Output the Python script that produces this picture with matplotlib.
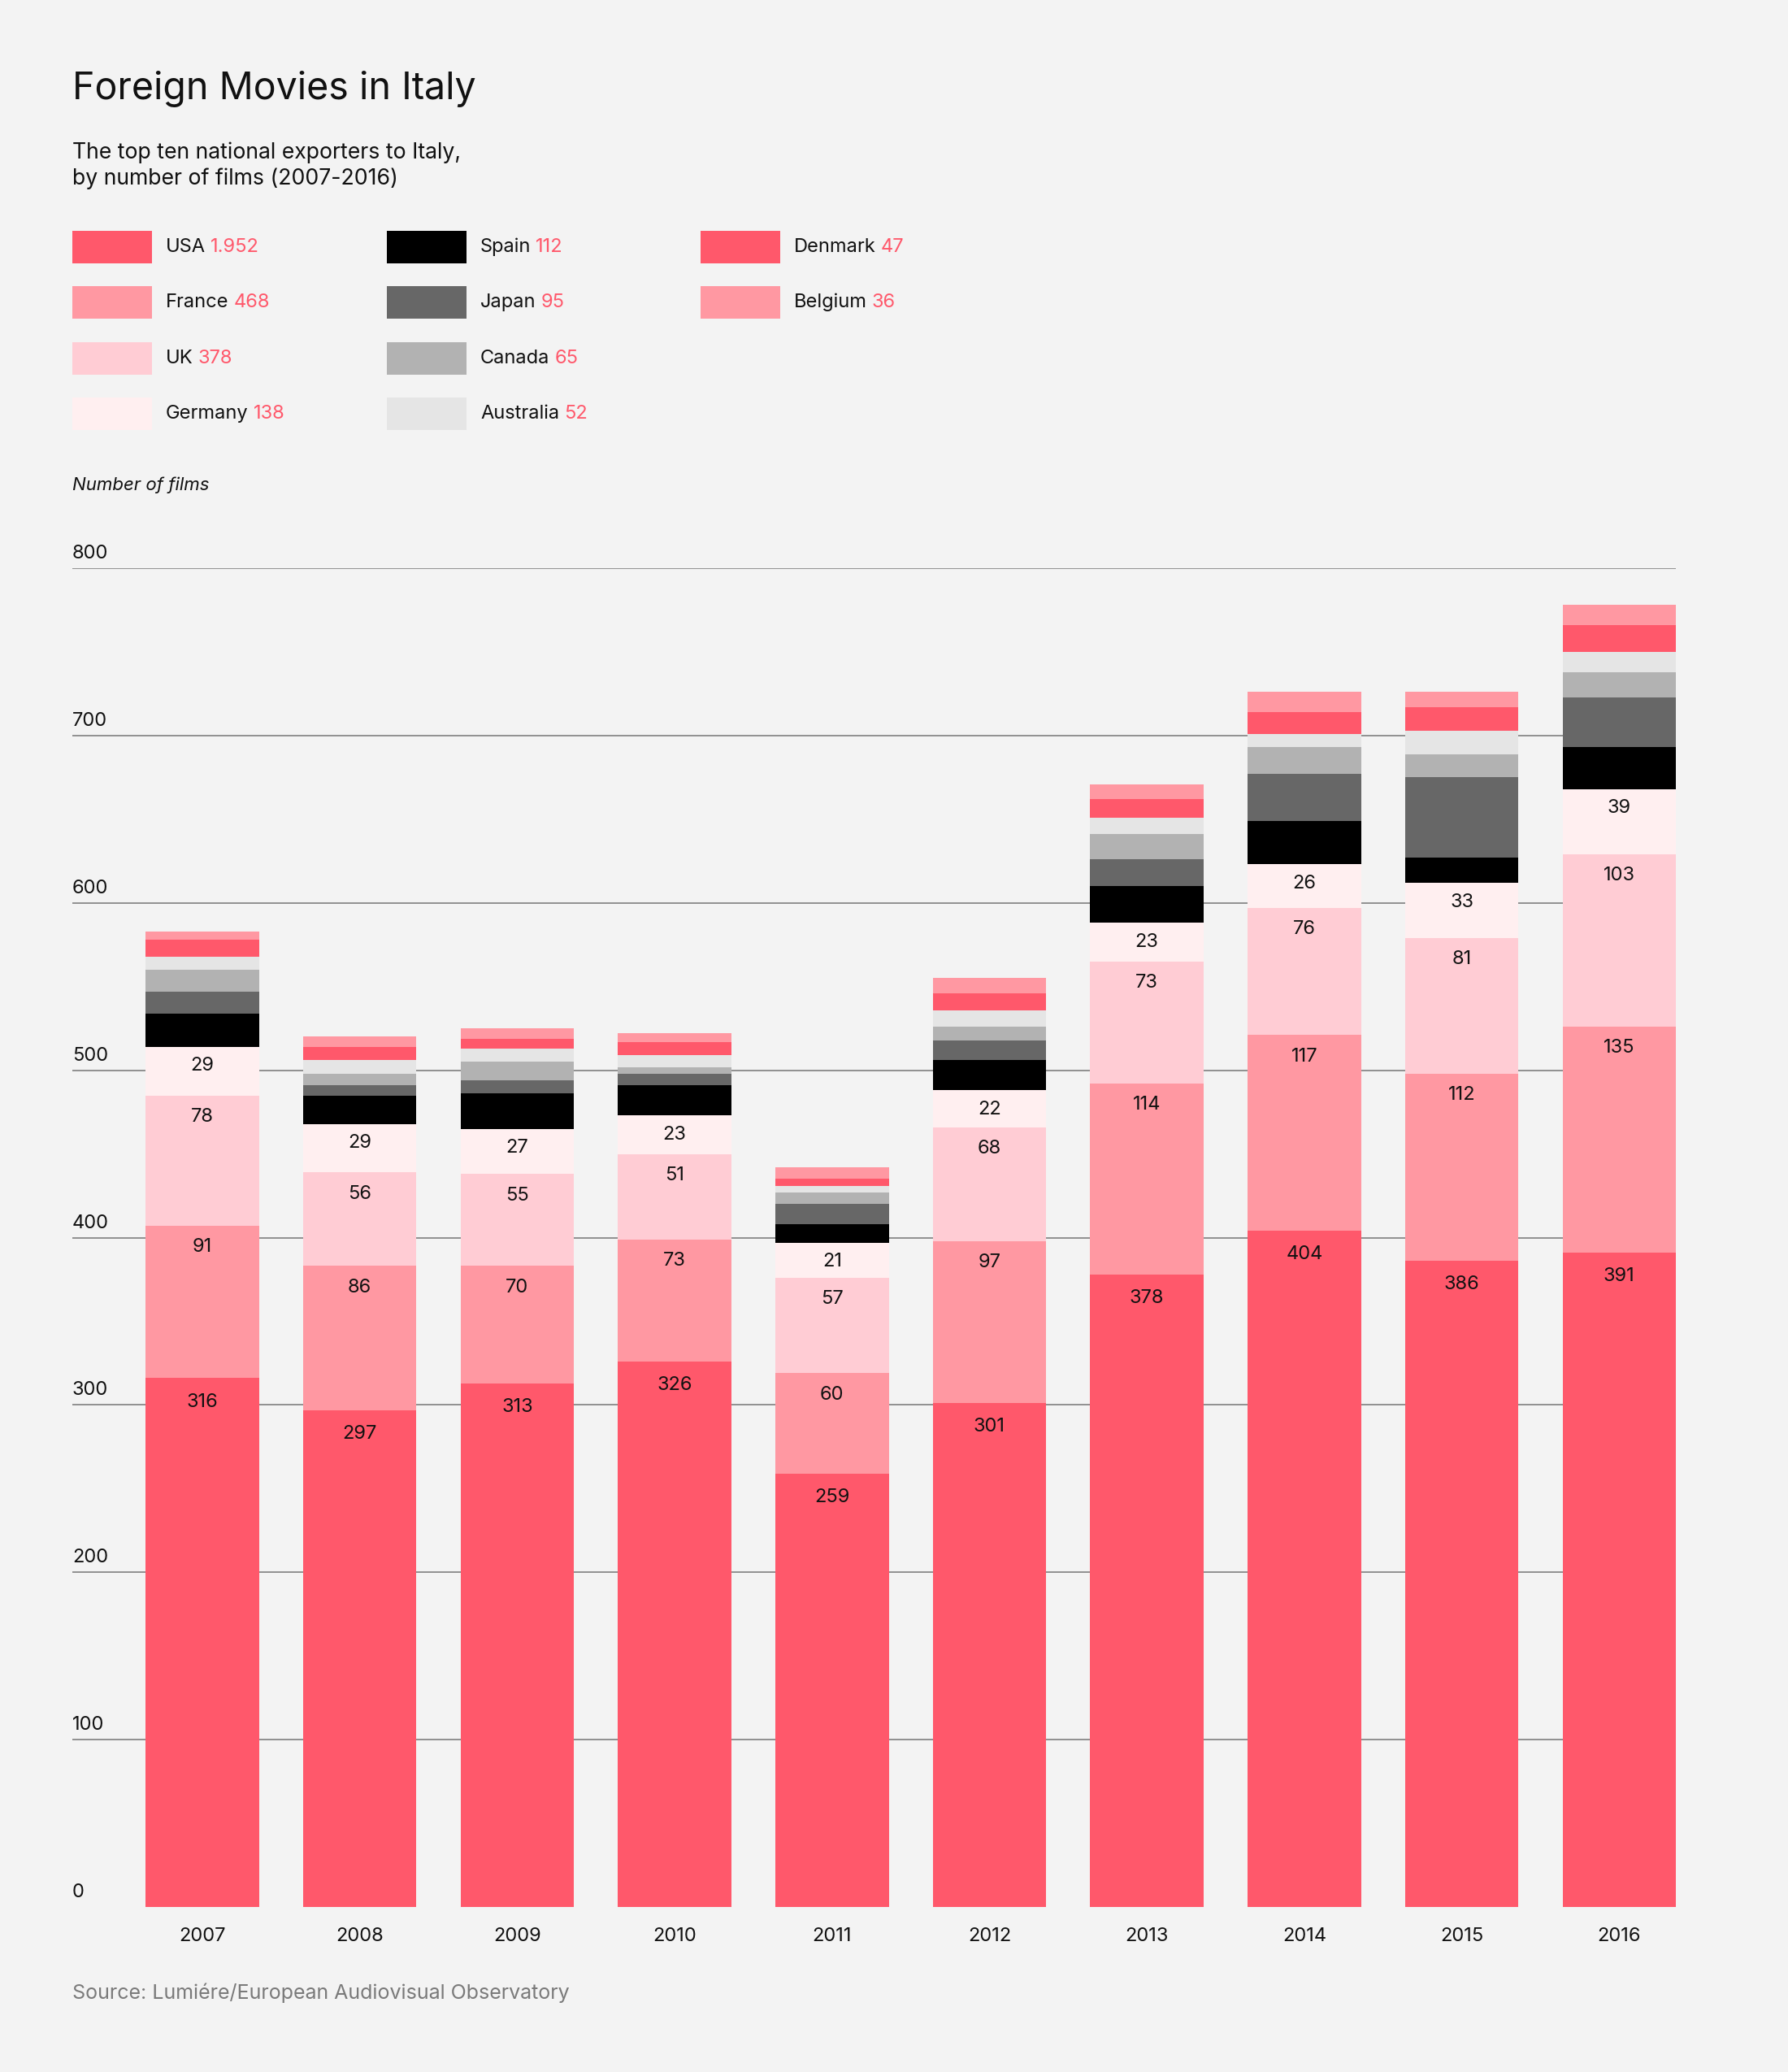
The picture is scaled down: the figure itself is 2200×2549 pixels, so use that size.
import matplotlib
matplotlib.use("Agg")
import matplotlib.pyplot as plt
from matplotlib.patches import Rectangle
import numpy as np

plt.rcParams['font.family'] = ['Inter', 'DejaVu Sans']

years = ['2007', '2008', '2009', '2010', '2011', '2012', '2013', '2014', '2015', '2016']
countries = ['USA', 'France', 'UK', 'Germany', 'Spain', 'Japan', 'Canada', 'Australia', 'Denmark', 'Belgium']
legend_totals = ['1.952', '468', '378', '138', '112', '95', '65', '52', '47', '36']
colors = ['#ff586b', '#ff98a2', '#ffccd4', '#ffeff0', '#000000',
          '#676767', '#b2b2b2', '#e5e5e5', '#ff586b', '#ff98a2']

usa = [316, 297, 313, 326, 259, 301, 378, 404, 386, 391]
france = [91, 86, 70, 73, 60, 97, 114, 117, 112, 135]
uk = [78, 56, 55, 51, 57, 68, 73, 76, 81, 103]
germany = [29, 29, 27, 23, 21, 22, 23, 26, 33, 39]
spain = [20, 17, 21, 18, 11, 18, 22, 26, 15, 25]
japan = [13, 6, 8, 7, 12, 12, 16, 28, 48, 30]
canada = [13, 7, 11, 4, 7, 8, 15, 16, 14, 15]
australia = [8, 8, 8, 7, 4, 10, 10, 8, 14, 12]
denmark = [10, 8, 6, 8, 4, 10, 11, 13, 14, 16]
belgium = [5, 6, 6, 5, 7, 9, 9, 12, 9, 12]

series = [usa, france, uk, germany, spain, japan, canada, australia, denmark, belgium]
labelled = 4  # first four series carry value labels
label_offset = [-21, -19, -19, -17]

W, H = 2200, 2549
fig = plt.figure(figsize=(W / 100, H / 100), dpi=100)
fig.patch.set_facecolor('#f3f3f3')

ax = fig.add_axes([89 / W, (H - 2346) / H, (2062 - 89) / W, (2346 - 699) / H])
ax.set_facecolor('#f3f3f3')
x = np.arange(len(years))
ax.set_xlim(-0.826, 9.36)
ax.set_ylim(0, 800)

for v in [100, 200, 300, 400, 500, 600, 700, 800]:
    ax.axhline(v, color='#7f7f7f', lw=1.2, zorder=0)
for v in range(0, 801, 100):
    ax.annotate(str(v), xy=(-0.826, v), xytext=(0, 5), textcoords='offset points',
                ha='left', va='bottom', fontsize=17, color='#111111')

bottom = np.zeros(len(years))
for i, (vals, c) in enumerate(zip(series, colors)):
    vals = np.array(vals)
    ax.bar(x, vals, width=0.72, bottom=bottom, color=c, zorder=2, linewidth=0)
    if i < labelled:
        for xi, b, v in zip(x, bottom, vals):
            ax.annotate(str(v), xy=(xi, b + v), xytext=(0, label_offset[i]), textcoords='offset points',
                        ha='center', va='center', fontsize=17, color='#111111', zorder=3)
    bottom += vals

ax.set_xticks(x)
ax.set_xticklabels(years, fontsize=17, color='#111111')
ax.tick_params(axis='x', length=0, pad=18)
ax.set_yticks([])
for s in ax.spines.values():
    s.set_visible(False)

# header
fig.text(89 / W, 1 - 110 / H, 'Foreign Movies in Italy', fontsize=33.5, color='#111111', va='center')
fig.text(89 / W, 1 - 188 / H, 'The top ten national exporters to Italy,', fontsize=19.2, color='#111111', va='center')
fig.text(89 / W, 1 - 220 / H, 'by number of films (2007-2016)', fontsize=19.2, color='#111111', va='center')

# legend
col_x = [89, 476, 862]
row_y = [304, 372, 441, 509]
fig.canvas.draw()
renderer = fig.canvas.get_renderer()
for i, (name, tot, c) in enumerate(zip(countries, legend_totals, colors)):
    col, row = i // 4, i % 4
    lx, ly = col_x[col], row_y[row]
    fig.patches.append(Rectangle((lx / W, (H - ly - 20) / H), 98 / W, 40 / H,
                                 transform=fig.transFigure, facecolor=c, edgecolor='none'))
    t = fig.text((lx + 115) / W, 1 - ly / H, name, fontsize=17, color='#111111', va='center')
    bb = t.get_window_extent(renderer)
    fig.text((bb.x1 + 6) / W, 1 - ly / H, tot, fontsize=17, color='#ff586b', va='center')

fig.text(89 / W, 1 - 597 / H, 'Number of films', fontsize=16, style='italic', color='#111111', va='center')
fig.text(89 / W, 1 - 2452 / H, 'Source: Lumiére/European Audiovisual Observatory', fontsize=18,
         color='#7a7a7a', va='center')

fig.savefig('out.png', dpi=100, facecolor=fig.get_facecolor())
